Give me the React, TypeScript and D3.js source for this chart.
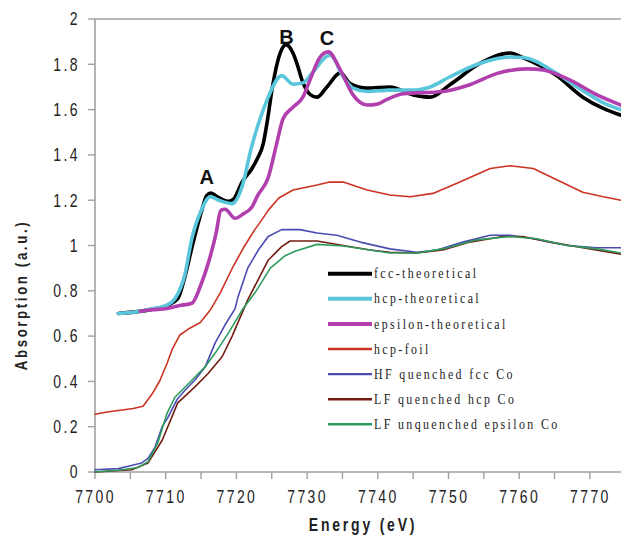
import React from "react";
import * as d3 from "d3";

type P = [number, number];

const fccTheoretical: P[] = [
  [7703.3, 0.7], [7706, 0.708], [7708, 0.718], [7710.2, 0.735], [7711.7, 0.765], [7712.7, 0.86],
  [7713.7, 0.99], [7715.1, 1.155], [7715.8, 1.22], [7716.4, 1.232], [7717.3, 1.215], [7718.8, 1.195],
  [7719.6, 1.205], [7720.8, 1.28], [7722.2, 1.34], [7722.9, 1.38], [7723.8, 1.45], [7724.4, 1.555],
  [7725.1, 1.7], [7726.2, 1.85], [7727.0, 1.887], [7728, 1.85], [7728.6, 1.8], [7729.4, 1.72],
  [7730.5, 1.665], [7731.4, 1.655], [7732.8, 1.7], [7734.7, 1.762], [7736.1, 1.715], [7738.5, 1.695],
  [7741.7, 1.7], [7745, 1.665], [7747.4, 1.655], [7750.2, 1.71], [7754.5, 1.805], [7758.7, 1.85],
  [7760.5, 1.83], [7765.3, 1.75], [7769, 1.655], [7771.9, 1.605], [7774.4, 1.575],
];

const hcpTheoretical: P[] = [
  [7703.3, 0.7], [7705.5, 0.705], [7708, 0.72], [7710.2, 0.737], [7711.3, 0.765], [7712.7, 0.87],
  [7713.7, 1.03], [7715.1, 1.16], [7716.3, 1.215], [7717.5, 1.2], [7719.4, 1.185], [7720.9, 1.27],
  [7722.1, 1.43], [7723.3, 1.555], [7724.5, 1.655], [7725.9, 1.74], [7726.4, 1.75], [7728, 1.712],
  [7729.4, 1.718], [7730.8, 1.765], [7732.8, 1.835], [7733.3, 1.84], [7735.1, 1.745], [7736.5, 1.695],
  [7738.5, 1.68], [7741.7, 1.686], [7745, 1.686], [7747.4, 1.7], [7750.2, 1.745], [7754.5, 1.805],
  [7758.7, 1.832], [7760.5, 1.83], [7765.3, 1.76], [7768.2, 1.7], [7771.9, 1.63], [7774.4, 1.6],
];

const epsilonTheoretical: P[] = [
  [7706.4, 0.71], [7708, 0.716], [7710.2, 0.722], [7712, 0.735], [7713.7, 0.745], [7714.9, 0.82],
  [7716, 0.92], [7717.1, 1.05], [7717.8, 1.155], [7718.4, 1.16], [7719.8, 1.12], [7721, 1.14],
  [7722.2, 1.17], [7723, 1.22], [7724.5, 1.3], [7725.7, 1.45], [7726.6, 1.56], [7728, 1.61],
  [7729.4, 1.655], [7730.4, 1.73], [7731.8, 1.83], [7733, 1.855], [7734.7, 1.775], [7736.5, 1.665],
  [7738.5, 1.62], [7740, 1.625], [7741.3, 1.645], [7743.6, 1.67], [7749.2, 1.68], [7753, 1.71],
  [7756.9, 1.76], [7761.1, 1.78], [7763.4, 1.775], [7767.2, 1.73], [7771, 1.665], [7774.4, 1.62],
];

const hcpFoil: P[] = [
  [7700, 0.255], [7701.7, 0.265], [7705.4, 0.28], [7706.8, 0.29], [7708.2, 0.35], [7709.2, 0.405],
  [7710.2, 0.48], [7710.9, 0.54], [7712, 0.605], [7713.4, 0.635], [7714.9, 0.66], [7716.3, 0.715],
  [7717.7, 0.79], [7719.5, 0.905], [7721, 0.99], [7722.6, 1.07], [7723.3, 1.1], [7724.5, 1.155],
  [7726, 1.21], [7728, 1.245], [7731.4, 1.267], [7733.2, 1.28], [7735.1, 1.28], [7738.5, 1.245],
  [7741.7, 1.223], [7744.6, 1.215], [7747.8, 1.23], [7751.2, 1.275], [7755.9, 1.34], [7758.7, 1.352],
  [7762, 1.34], [7765.3, 1.29], [7769, 1.235], [7771.9, 1.215], [7774.4, 1.2],
];

const hfQuenchedFcc: P[] = [
  [7700, 0.01], [7703.3, 0.015], [7704.7, 0.025], [7706.6, 0.04], [7707.5, 0.06], [7708.5, 0.11],
  [7709.5, 0.2], [7710.3, 0.24], [7711.6, 0.32], [7712.7, 0.36], [7714.1, 0.405], [7715.6, 0.465],
  [7717, 0.57], [7718.4, 0.65], [7719.8, 0.72], [7720.2, 0.77], [7721.6, 0.9], [7723.1, 0.98],
  [7724.5, 1.04], [7726.4, 1.07], [7729, 1.07], [7731.4, 1.055], [7734.2, 1.045], [7737.5, 1.015],
  [7741.7, 0.985], [7745.5, 0.97], [7748.4, 0.98], [7752, 1.015], [7755.9, 1.045], [7758.7, 1.045],
  [7762, 1.03], [7766.8, 1.0], [7771, 0.99], [7774.4, 0.99],
];

const lfQuenchedHcp: P[] = [
  [7700, 0.0], [7705.2, 0.01], [7707.5, 0.04], [7709.5, 0.14], [7710.3, 0.2], [7711.7, 0.305],
  [7714.1, 0.375], [7716, 0.435], [7718, 0.51], [7719.4, 0.6], [7721.6, 0.76], [7724.5, 0.935],
  [7726.4, 0.995], [7727.6, 1.02], [7731.4, 1.02], [7735.1, 1.0], [7738.9, 0.98], [7741.7, 0.97],
  [7745.5, 0.967], [7749.2, 0.98], [7753, 1.015], [7757.7, 1.04], [7760.5, 1.04], [7764.4, 1.015],
  [7769, 0.99], [7774.4, 0.962],
];

const lfUnquenchedEpsilon: P[] = [
  [7700, 0.0], [7703.3, 0.008], [7706.1, 0.02], [7707.5, 0.045], [7708.9, 0.13], [7710.2, 0.26],
  [7711.3, 0.33], [7713.7, 0.405], [7715.6, 0.465], [7717, 0.525], [7718.8, 0.61], [7720.8, 0.715],
  [7722.6, 0.79], [7724.8, 0.9], [7726.9, 0.955], [7728.3, 0.975], [7731.4, 1.005], [7735.1, 0.998],
  [7738.9, 0.98], [7741.7, 0.967], [7745.5, 0.967], [7749.2, 0.985], [7754, 1.025], [7758.7, 1.04],
  [7762.5, 1.03], [7766.8, 1.0], [7771, 0.985], [7774.4, 0.967],
];

const seriesNames = [
  "fcc-theoretical",
  "hcp-theoretical",
  "epsilon-theoretical",
  "hcp-foil",
  "HF quenched fcc Co",
  "LF quenched hcp Co",
  "LF unquenched epsilon Co",
];
const seriesData = [
  fccTheoretical, hcpTheoretical, epsilonTheoretical, hcpFoil,
  hfQuenchedFcc, lfQuenchedHcp, lfUnquenchedEpsilon,
];
const seriesColors = ["#000000", "#5ac6dc", "#b23fae", "#cc3322", "#4b4bb0", "#731c14", "#2e9c5e"];
const seriesWidths = [3.6, 3.6, 3.6, 1.6, 1.6, 1.6, 1.6];
const seriesSmooth = [true, true, true, false, false, false, false];

const xTicks = d3.range(7700, 7776, 5);
const xLabels = d3.range(7700, 7771, 10);
const yTicks = d3.range(0, 2.01, 0.2);

const peakLabels = ["A", "B", "C"];
const peakEnergies = [7715.8, 7727.1, 7732.8];
const peakValues = [1.27, 1.89, 1.885];

const W = 621;
const H = 535;
const axisColor = "#a0a0a0";
const sansFont = "'Liberation Sans', Arial, sans-serif";
const narrow = 0.8;

export default function App() {
  const x = d3.scaleLinear().domain([7700, 7775]).range([95, 625.25]);
  const y = d3.scaleLinear().domain([0, 2]).range([472, 19]);

  const smoothLine = d3
    .line<P>()
    .x((d) => x(d[0]))
    .y((d) => y(d[1]))
    .curve(d3.curveMonotoneX);
  const rawLine = d3
    .line<P>()
    .x((d) => x(d[0]))
    .y((d) => y(d[1]))
    .curve(d3.curveLinear);

  const legendX0 = 328;
  const legendX1 = 372;
  const legendY0 = 273.7;
  const legendStep = 25.1;

  return (
    <svg
      width={W}
      height={H}
      viewBox={`0 0 ${W} ${H}`}
      style={{ position: "absolute", left: 0, top: 0, background: "#fff" }}
    >
      <rect x={0} y={0} width={W} height={H} fill="#fff" />
      {/* frame */}
      <line x1={x(7700)} x2={W} y1={y(2)} y2={y(2)} stroke={axisColor} strokeWidth={1.6} />
      <line x1={x(7700)} x2={x(7700)} y1={y(2)} y2={y(0)} stroke={axisColor} strokeWidth={1.6} />
      <line x1={x(7700)} x2={W} y1={y(0)} y2={y(0)} stroke={axisColor} strokeWidth={1.6} />

      {/* y ticks */}
      {yTicks.map((t) => (
        <g key={"y" + t}>
          <line x1={x(7700) - 7} x2={x(7700)} y1={y(t)} y2={y(t)} stroke={axisColor} strokeWidth={1.4} />
          <text
            transform={`translate(80, ${y(t)}) scale(${narrow}, 1)`}
            dy="0.36em"
            textAnchor="end"
            fontFamily={sansFont}
            fontSize={17.5}
            letterSpacing={3}
            fill="#222"
          >
            {d3.format("~g")(+t.toFixed(1))}
          </text>
        </g>
      ))}

      {/* x ticks */}
      {xTicks.map((t) => (
        <line key={"xt" + t} x1={x(t)} x2={x(t)} y1={y(0)} y2={y(0) + 7} stroke={axisColor} strokeWidth={1.4} />
      ))}
      {xLabels.map((t) => (
        <text
          key={"xl" + t}
          transform={`translate(${x(t) + 0.5}, 503) scale(${narrow}, 1)`}
          textAnchor="middle"
          fontFamily={sansFont}
          fontSize={17.5}
          letterSpacing={3}
          fill="#222"
        >
          {t}
        </text>
      ))}

      {/* axis titles */}
      <text
        transform={`translate(363, 531) scale(${narrow}, 1)`}
        textAnchor="middle"
        fontFamily={sansFont}
        fontWeight="bold"
        fontSize={17.5}
        letterSpacing={3.5}
        fill="#222"
      >
        Energy (eV)
      </text>
      <text
        transform={`translate(27, 295) rotate(-90) scale(${narrow}, 1)`}
        textAnchor="middle"
        fontFamily={sansFont}
        fontWeight="bold"
        fontSize={16.5}
        letterSpacing={3.3}
        fill="#222"
      >
        Absorption (a.u.)
      </text>

      {/* series */}
      {seriesData.map((data, i) => (
        <path
          key={seriesNames[i]}
          d={(seriesSmooth[i] ? smoothLine : rawLine)(data) || ""}
          fill="none"
          stroke={seriesColors[i]}
          strokeWidth={seriesWidths[i]}
          strokeLinejoin="round"
          strokeLinecap="round"
        />
      ))}

      {/* peak labels */}
      {peakLabels.map((l, i) => (
        <text
          key={l}
          x={x(peakEnergies[i])}
          y={y(peakValues[i])}
          textAnchor="middle"
          fontFamily={sansFont}
          fontWeight="bold"
          fontSize={20}
          fill="#111"
        >
          {l}
        </text>
      ))}

      {/* legend */}
      {seriesNames.map((name, i) => (
        <g key={"lg" + name}>
          <line
            x1={legendX0}
            x2={legendX1}
            y1={legendY0 + i * legendStep}
            y2={legendY0 + i * legendStep}
            stroke={seriesColors[i]}
            strokeWidth={i < 3 ? 4 : 2.4}
          />
          <text
            transform={`translate(${legendX1 + 2}, ${legendY0 + i * legendStep}) scale(0.85, 1)`}
            dy="0.33em"
            fontFamily="'Liberation Serif', 'Times New Roman', serif"
            fontSize={14}
            letterSpacing={2.8}
            fill="#222"
          >
            {name}
          </text>
        </g>
      ))}
    </svg>
  );
}
